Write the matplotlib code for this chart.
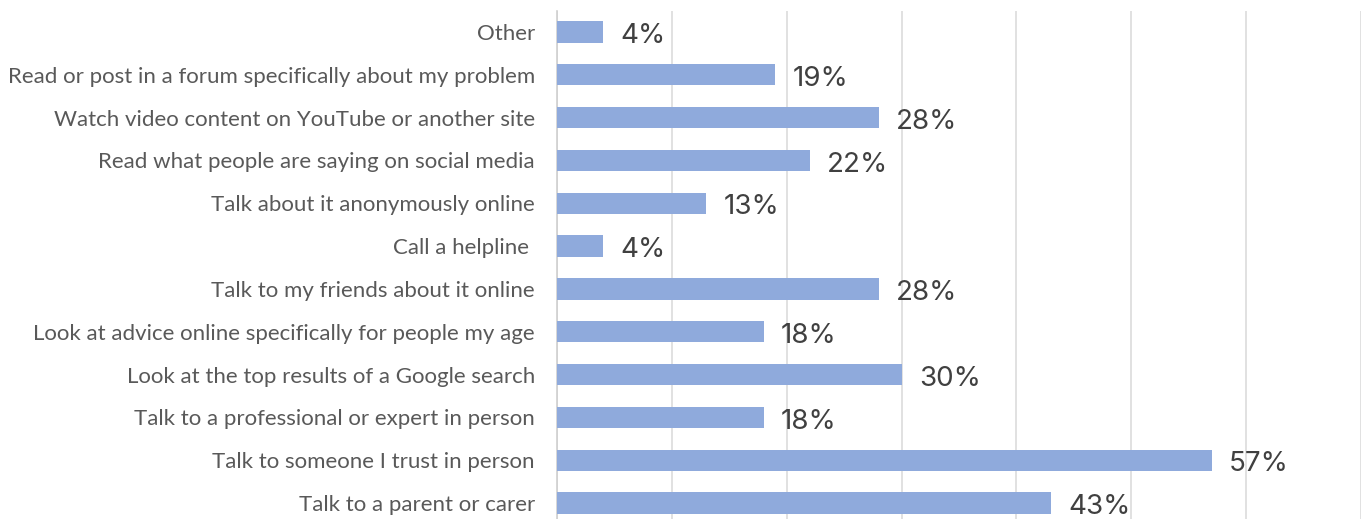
import matplotlib
matplotlib.use('Agg')
import matplotlib.pyplot as plt

categories = [
    'Other',
    'Read or post in a forum specifically about my problem',
    'Watch video content on YouTube or another site',
    'Read what people are saying on social media',
    'Talk about it anonymously online',
    'Call a helpline ',
    'Talk to my friends about it online',
    'Look at advice online specifically for people my age',
    'Look at the top results of a Google search',
    'Talk to a professional or expert in person',
    'Talk to someone I trust in person',
    'Talk to a parent or carer',
]
values = [4, 19, 28, 22, 13, 4, 28, 18, 30, 18, 57, 43]
grid_ticks = [0, 10, 20, 30, 40, 50, 60, 70]

W, H = 1366, 519
fig = plt.figure(figsize=(W / 100, H / 100), dpi=100)
# axes placed in pixels; bottom row is cut off by the image edge as in the source
left, right, top, bottom = 557, 1361, 10.5, 524.5
ax = fig.add_axes([left / W, (H - bottom) / H, (right - left) / W, (bottom - top) / H])

pos = list(range(len(categories)))
ax.barh(pos, values, height=0.5, color='#8FAADC', zorder=3)
ax.set_xlim(0, 70)
ax.set_ylim(len(categories) - 0.5, -0.5)

ax.set_xticks(grid_ticks)
ax.set_xticklabels([])
ax.grid(axis='x', color='#D9D9D9', linewidth=1.1, zorder=0)
ax.tick_params(length=0)
for s in ['top', 'right', 'bottom']:
    ax.spines[s].set_visible(False)
ax.spines['left'].set_color('#D0D0D0')
ax.spines['left'].set_linewidth(1.2)

ax.set_yticks(pos)
ax.set_yticklabels(categories, family='Lato', fontsize=16, color='#595959')
ax.tick_params(axis='y', pad=16)

for p, v in zip(pos, values):
    ax.annotate(f'{v}%', (v, p), xytext=(12.5, -3), textcoords='offset points',
                ha='left', va='center', family='Inter', fontsize=20, color='#404040')

fig.savefig('out.png', dpi=100)
